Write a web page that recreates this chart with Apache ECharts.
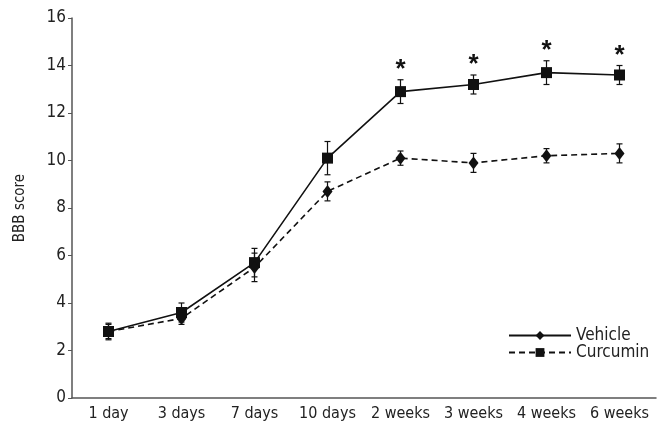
<!DOCTYPE html>
<html><head><meta charset="utf-8">
<script src="https://cdn.jsdelivr.net/npm/echarts@6/dist/echarts.min.js"></script>
<style>html,body{margin:0;padding:0;background:#fff}#c{width:672px;height:441px}</style>
</head><body><div id="c"></div>
<script>
const categories = ['1 day','3 days','7 days','10 days','2 weeks','3 weeks','4 weeks','6 weeks'];
const vehicleMean = [2.8, 3.6, 5.7, 10.1, 12.9, 13.2, 13.7, 13.6];
const vehicleErr  = [0.35, 0.4, 0.6, 0.7, 0.5, 0.4, 0.5, 0.4];
const curcuminMean = [2.8, 3.35, 5.5, 8.7, 10.1, 9.9, 10.2, 10.3];
const curcuminErr  = [0.3, 0.25, 0.6, 0.4, 0.3, 0.4, 0.3, 0.4];
const significant = [0, 0, 0, 0, 1, 1, 1, 1];
const yTicks = [0, 2, 4, 6, 8, 10, 12, 14, 16];

const FONT = "'Liberation Sans Narrow', 'DejaVu Sans Condensed', sans-serif";
const chart = echarts.init(document.getElementById('c'), null, {renderer: 'canvas'});

function errData(mean, err) {
  return mean.map((m, i) => [i, m - err[i], m + err[i]]);
}
function errRender(params, api) {
  const x = api.value(0);
  const lo = api.coord([x, api.value(1)]);
  const hi = api.coord([x, api.value(2)]);
  const cap = 3;
  const st = {stroke: '#111', lineWidth: 1.2};
  return {type: 'group', children: [
    {type: 'line', shape: {x1: lo[0], y1: lo[1], x2: hi[0], y2: hi[1]}, style: st},
    {type: 'line', shape: {x1: lo[0]-cap, y1: lo[1], x2: lo[0]+cap, y2: lo[1]}, style: st},
    {type: 'line', shape: {x1: hi[0]-cap, y1: hi[1], x2: hi[0]+cap, y2: hi[1]}, style: st}
  ]};
}
const starData = vehicleMean.map((m, i) => [i, m + vehicleErr[i], significant[i]]).filter(d => d[2]);

chart.setOption({
  animation: false,
  grid: {left: 72, right: 16, top: 18, bottom: 43},
  legend: {
    left: 503, top: 322, orient: 'vertical', itemWidth: 62, itemHeight: 11, itemGap: 0,
    textStyle: {fontFamily: FONT, fontSize: 17, color: '#222'},
    data: ['Vehicle', 'Curcumin']
  },
  xAxis: {
    type: 'category', data: categories, boundaryGap: true,
    axisLine: {lineStyle: {color: '#555', width: 1.5}},
    axisTick: {alignWithLabel: true, length: 4, lineStyle: {color: '#777'}},
    axisLabel: {fontFamily: FONT, fontSize: 16, color: '#222', margin: 8, interval: 0}
  },
  yAxis: {
    type: 'value', min: yTicks[0], max: yTicks[yTicks.length-1], interval: 2,
    name: 'BBB score', nameLocation: 'middle', nameGap: 44,
    nameTextStyle: {fontFamily: FONT, fontSize: 15, color: '#222'},
    axisLine: {show: true, lineStyle: {color: '#555', width: 1.5}},
    axisTick: {show: true, length: 4, lineStyle: {color: '#555'}},
    splitLine: {show: false},
    axisLabel: {fontFamily: FONT, fontSize: 17, color: '#222', margin: 6}
  },
  series: [
    {type: 'custom', name: 'vehErr', renderItem: errRender, data: errData(vehicleMean, vehicleErr), z: 1, silent: true},
    {type: 'custom', name: 'curErr', renderItem: errRender, data: errData(curcuminMean, curcuminErr), z: 1, silent: true},
    {type: 'line', name: 'Vehicle', symbol: 'diamond', symbolSize: 11, showAllSymbol: true,
      data: vehicleMean.map(v => ({value: v, symbol: 'rect', symbolSize: 11})),
      lineStyle: {color: '#111', width: 1.6}, itemStyle: {color: '#111'}, z: 3},
    {type: 'custom', name: 'stars', silent: true, z: 4, data: starData,
      renderItem: function (params, api) {
        const p = api.coord([api.value(0), api.value(1)]);
        return {type: 'text', x: p[0], y: p[1] + 3,
          style: {text: '*', fontFamily: 'Liberation Sans, sans-serif', fontSize: 26, fontWeight: 'bold', fill: '#111', align: 'center', verticalAlign: 'bottom'}};
      }},
    {type: 'line', name: 'Curcumin', symbol: 'rect', symbolSize: 10, showAllSymbol: true,
      data: curcuminMean.map(v => ({value: v, symbol: 'diamond', symbolSize: [10, 13]})),
      lineStyle: {color: '#111', width: 1.6, type: [6, 4]}, itemStyle: {color: '#111'}, z: 3}
  ]
});
</script></body></html>
